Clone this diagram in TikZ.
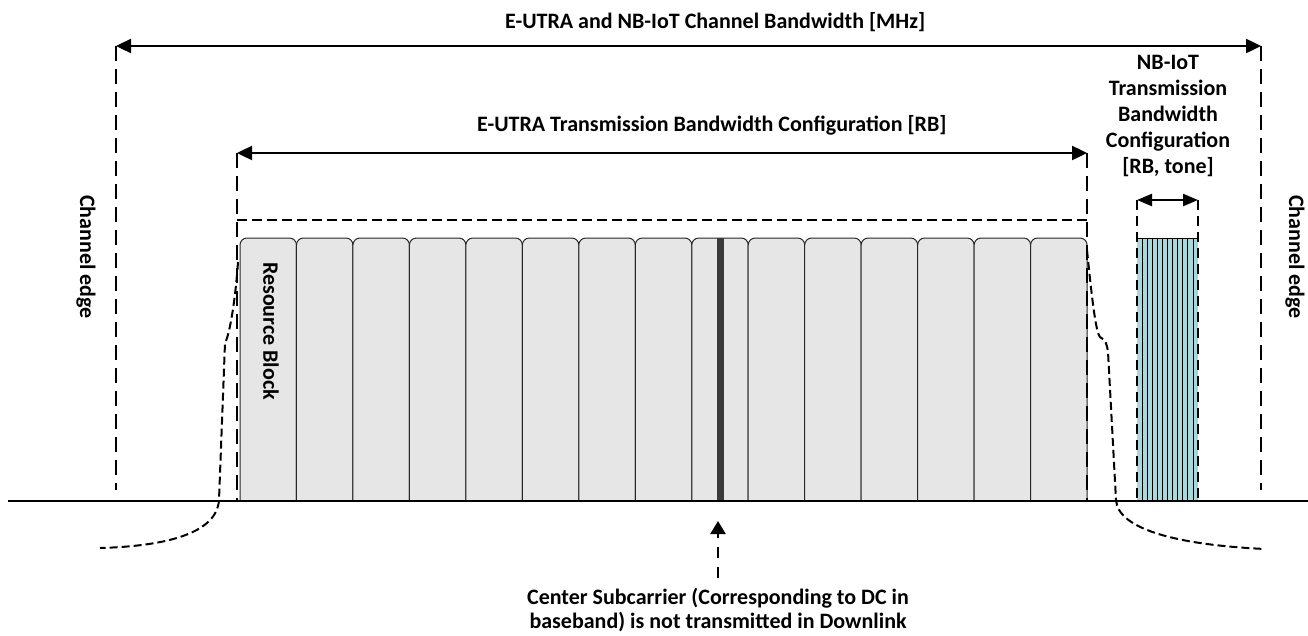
\documentclass[tikz,border=0pt]{standalone}
\usepackage{fontspec}
\setmainfont{Carlito}
\usetikzlibrary{arrows.meta}
\definecolor{rbgray}{HTML}{E6E6E6}
\definecolor{nbteal}{HTML}{A9D8DC}
\definecolor{dcdark}{HTML}{3A3A3A}
\begin{document}
\begin{tikzpicture}[x=1pt,y=-1pt,
  lbl/.style={font=\fontsize{22}{27}\selectfont\bfseries, inner sep=0pt},
  dimarrow/.style={line width=2.4pt, {Triangle[length=15pt,width=14pt]}-{Triangle[length=15pt,width=14pt]}},
  edgedash/.style={line width=2.4pt, dash pattern=on 15pt off 8pt},
  topdash/.style={line width=2.4pt, dash pattern=on 10pt off 5pt},
  maskdash/.style={line width=2pt, dash pattern=on 8pt off 4pt},
  rb/.style={fill=rbgray, draw=black!85, line width=1pt, rounded corners=7pt}]
\useasboundingbox (0,0) rectangle (1308,635);
% coordinates
\coordinate (chL) at (116,46);
\coordinate (chR) at (1261,46);
\coordinate (chLb) at (116,490);
\coordinate (chRb) at (1261,490);
\coordinate (tbL) at (237,153);
\coordinate (tbR) at (1087,153);
\coordinate (tbLb) at (237,500);
\coordinate (tbRb) at (1087,500);
\coordinate (rectL) at (237,220);
\coordinate (rectR) at (1087,220);
\coordinate (nbL) at (1137,200);
\coordinate (nbR) at (1198,200);
\coordinate (nbLb) at (1137,500);
\coordinate (nbRb) at (1198,500);
\coordinate (baseL) at (8,501);
\coordinate (baseR) at (1308,501);
\coordinate (dcTail) at (718,578);
\coordinate (dcTip) at (718,521);
% resource blocks
\foreach \i in {0,...,14}{
  \pgfmathsetmacro\xa{240+\i*56.47}
  \pgfmathsetmacro\xb{240+(\i+1)*56.47}
  \path[rb] (\xa,500) -- (\xa,238) -- (\xb,238) -- (\xb,500);
}
% DC subcarrier
\fill[dcdark] (716.5,238) rectangle (723.5,500);
% NB-IoT block
\fill[nbteal] (1137,238) rectangle (1198,500);
\foreach \k in {1,...,11}{
  \draw[black, line width=0.8pt] ({1137+\k*61/12},238) -- ({1137+\k*61/12},500);
}
\draw[black, line width=1pt] (1137,238) -- (1198,238);
% dimension lines
\draw[dimarrow] (chL) -- (chR);
\draw[dimarrow] (tbL) -- (tbR);
\draw[line width=2.4pt, {Triangle[length=15pt,width=12pt]}-{Triangle[length=15pt,width=12pt]}] (nbL) -- (nbR);
% extension lines
\draw[edgedash] (chL) -- (chLb);
\draw[edgedash] (chR) -- (chRb);
\draw[edgedash] (tbL) -- (tbLb);
\draw[edgedash] (tbR) -- (tbRb);
\draw[topdash] (rectL) -- (rectR);
\draw[line width=2.4pt, dash pattern=on 10pt off 6pt] (nbL) -- (nbLb);
\draw[line width=2.4pt, dash pattern=on 10pt off 6pt] (nbR) -- (nbRb);
% spectrum masks
\draw[maskdash] (238,262) .. controls (235,305) and (229,336) .. (225,343) -- (219,500) .. controls (217,532) and (170,546) .. (100,548);
\draw[maskdash] (1087,250) .. controls (1092,300) and (1096,333) .. (1100,337) .. controls (1106,340) and (1107,345) .. (1108,352) -- (1116,500) .. controls (1118,530) and (1180,545) .. (1265,549);
% baseline
\draw[line width=2.6pt] (baseL) -- (baseR);
% DC arrow
\draw[line width=2.4pt, dash pattern=on 11pt off 9pt, -{Triangle[length=13pt,width=15pt]}] (dcTail) -- (dcTip);
% labels
\node[lbl, anchor=base west] (t1) at (505,28) {E-UTRA and NB-IoT Channel Bandwidth [MHz]};
\node[lbl, anchor=base west] (t2) at (477,131) {E-UTRA Transmission Bandwidth Configuration [RB]};
\node[lbl, font=\fontsize{22}{26}\selectfont\bfseries, align=center, anchor=north] (t3) at (1168,55) {NB-IoT\\Transmission\\Bandwidth\\Configuration\\{}[RB, tone]};
\node[lbl, font=\fontsize{22}{23.5}\selectfont\bfseries, align=center, anchor=north] (t4) at (718,588) {Center Subcarrier (Corresponding to DC in\\baseband) is not transmitted in Downlink};
\node[lbl, rotate=-90] (ceL) at (86,257) {Channel edge};
\node[lbl, rotate=-90] (ceR) at (1295,257) {Channel edge};
\node[lbl, rotate=-90] (rbl) at (271,331) {Resource Block};
\end{tikzpicture}
\end{document}
